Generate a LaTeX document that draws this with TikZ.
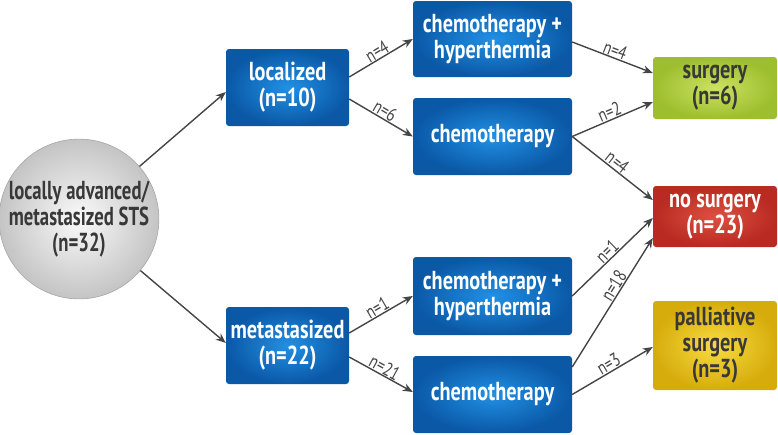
\documentclass[tikz,border=0pt]{standalone}
\usepackage{fontspec}
\setmainfont{PT Sans}[FakeStretch=0.78]
\newfontfamily\circfont{PT Sans}[FakeStretch=0.72]
\usetikzlibrary{arrows.meta,shadings}
\definecolor{bluein}{HTML}{2290E4}
\definecolor{blueout}{HTML}{0A58A6}
\definecolor{greyin}{HTML}{FAFAFA}
\definecolor{greyout}{HTML}{C4C4C4}
\definecolor{greenin}{HTML}{CCE262}
\definecolor{greenout}{HTML}{9DBE2E}
\definecolor{redin}{HTML}{DE503F}
\definecolor{redout}{HTML}{B82A22}
\definecolor{yelin}{HTML}{F8DC40}
\definecolor{yelout}{HTML}{D6AC0C}
\definecolor{txtdark}{HTML}{383838}
\definecolor{arr}{HTML}{454545}
\tikzset{
  box/.style={rectangle, rounded corners=3pt, inner sep=0pt, align=center,
    font=\bfseries\fontsize{26}{26}\selectfont},
  bluebox/.style={box, shading=radial, inner color=bluein, outer color=blueout, text=white},
  greenbox/.style={box, shading=radial, inner color=greenin, outer color=greenout, text=txtdark},
  redbox/.style={box, shading=radial, inner color=redin, outer color=redout, text=white},
  yelbox/.style={box, shading=radial, inner color=yelin, outer color=yelout, text=txtdark},
  circbox/.style={circle, inner sep=0pt, minimum size=156pt, align=center, draw=greyout!85!black, line width=0.6pt,
    shading=radial, inner color=greyin, outer color=greyout, text=txtdark,
    font=\circfont\bfseries\fontsize{26}{26}\selectfont},
  con/.style={draw=arr, line width=1.4pt, -{Stealth[length=10pt,width=8pt]}},
  lab/.style={font=\fontsize{19}{20}\selectfont, text=arr, sloped, above, inner sep=0.5pt}
}
\begin{document}
\begin{tikzpicture}[x=1pt,y=-1pt]
\useasboundingbox (0,0) rectangle (778,434);
\node[circbox] (circ) at (79,219) {locally advanced/\\metastasized STS\\(n=32)};
\node[bluebox, minimum width=123pt, minimum height=77pt] (loc) at (287.5,87.5) {localized\\(n=10)};
\node[bluebox, minimum width=123pt, minimum height=77pt] (met) at (287.5,345.5) {metastasized\\(n=22)};
\node[bluebox, minimum width=159pt, minimum height=76pt] (ch1) at (492.5,39) {chemotherapy +\\hyperthermia};
\node[bluebox, minimum width=159pt, minimum height=77pt] (c1) at (492.5,136.5) {chemotherapy};
\node[bluebox, minimum width=159pt, minimum height=78pt] (ch2) at (492.5,296) {chemotherapy +\\hyperthermia};
\node[bluebox, minimum width=159pt, minimum height=77pt] (c2) at (492.5,394.5) {chemotherapy};
\node[greenbox, minimum width=124pt, minimum height=62pt] (surg) at (715,88) {surgery\\(n=6)};
\node[redbox, minimum width=124pt, minimum height=61pt] (nosurg) at (715,216.5) {no surgery\\(n=23)};
\node[yelbox, minimum width=124pt, minimum height=89pt] (pall) at (715,345.5) {palliative\\surgery\\(n=3)};

\draw[con] (circ.41) -- ([yshift=-4.5pt]loc.west);
\draw[con] (circ.-40) -- ([yshift=2.5pt]met.west);
\draw[con] ([yshift=10.5pt]loc.east) -- node[lab]{n=4} (ch1.west);
\draw[con] ([yshift=-11.5pt]loc.east) -- node[lab]{n=6} (c1.west);
\draw[con] ([yshift=12.5pt]met.east) -- node[lab]{n=1} (ch2.west);
\draw[con] ([yshift=-11.5pt]met.east) -- node[lab]{n=21} ([yshift=2.5pt]c2.west);
\draw[con] ([yshift=-3pt]ch1.east) -- node[lab]{n=4} ([yshift=15pt]surg.west);
\draw[con] (c1.east) -- node[lab]{n=2} ([yshift=-14pt]surg.west);
\draw[con] (c1.east) -- node[lab]{n=4} ([yshift=16.5pt]nosurg.west);
\draw[con] (ch2.east) -- node[lab]{n=1} ([yshift=-1.5pt]nosurg.west);
\draw[con] ([yshift=27.5pt]c2.east) -- node[lab, pos=0.6]{n=18} ([yshift=-21.5pt]nosurg.west);
\draw[con] (c2.east) -- node[lab]{n=3} ([yshift=-1.5pt]pall.west);
\end{tikzpicture}
\end{document}
